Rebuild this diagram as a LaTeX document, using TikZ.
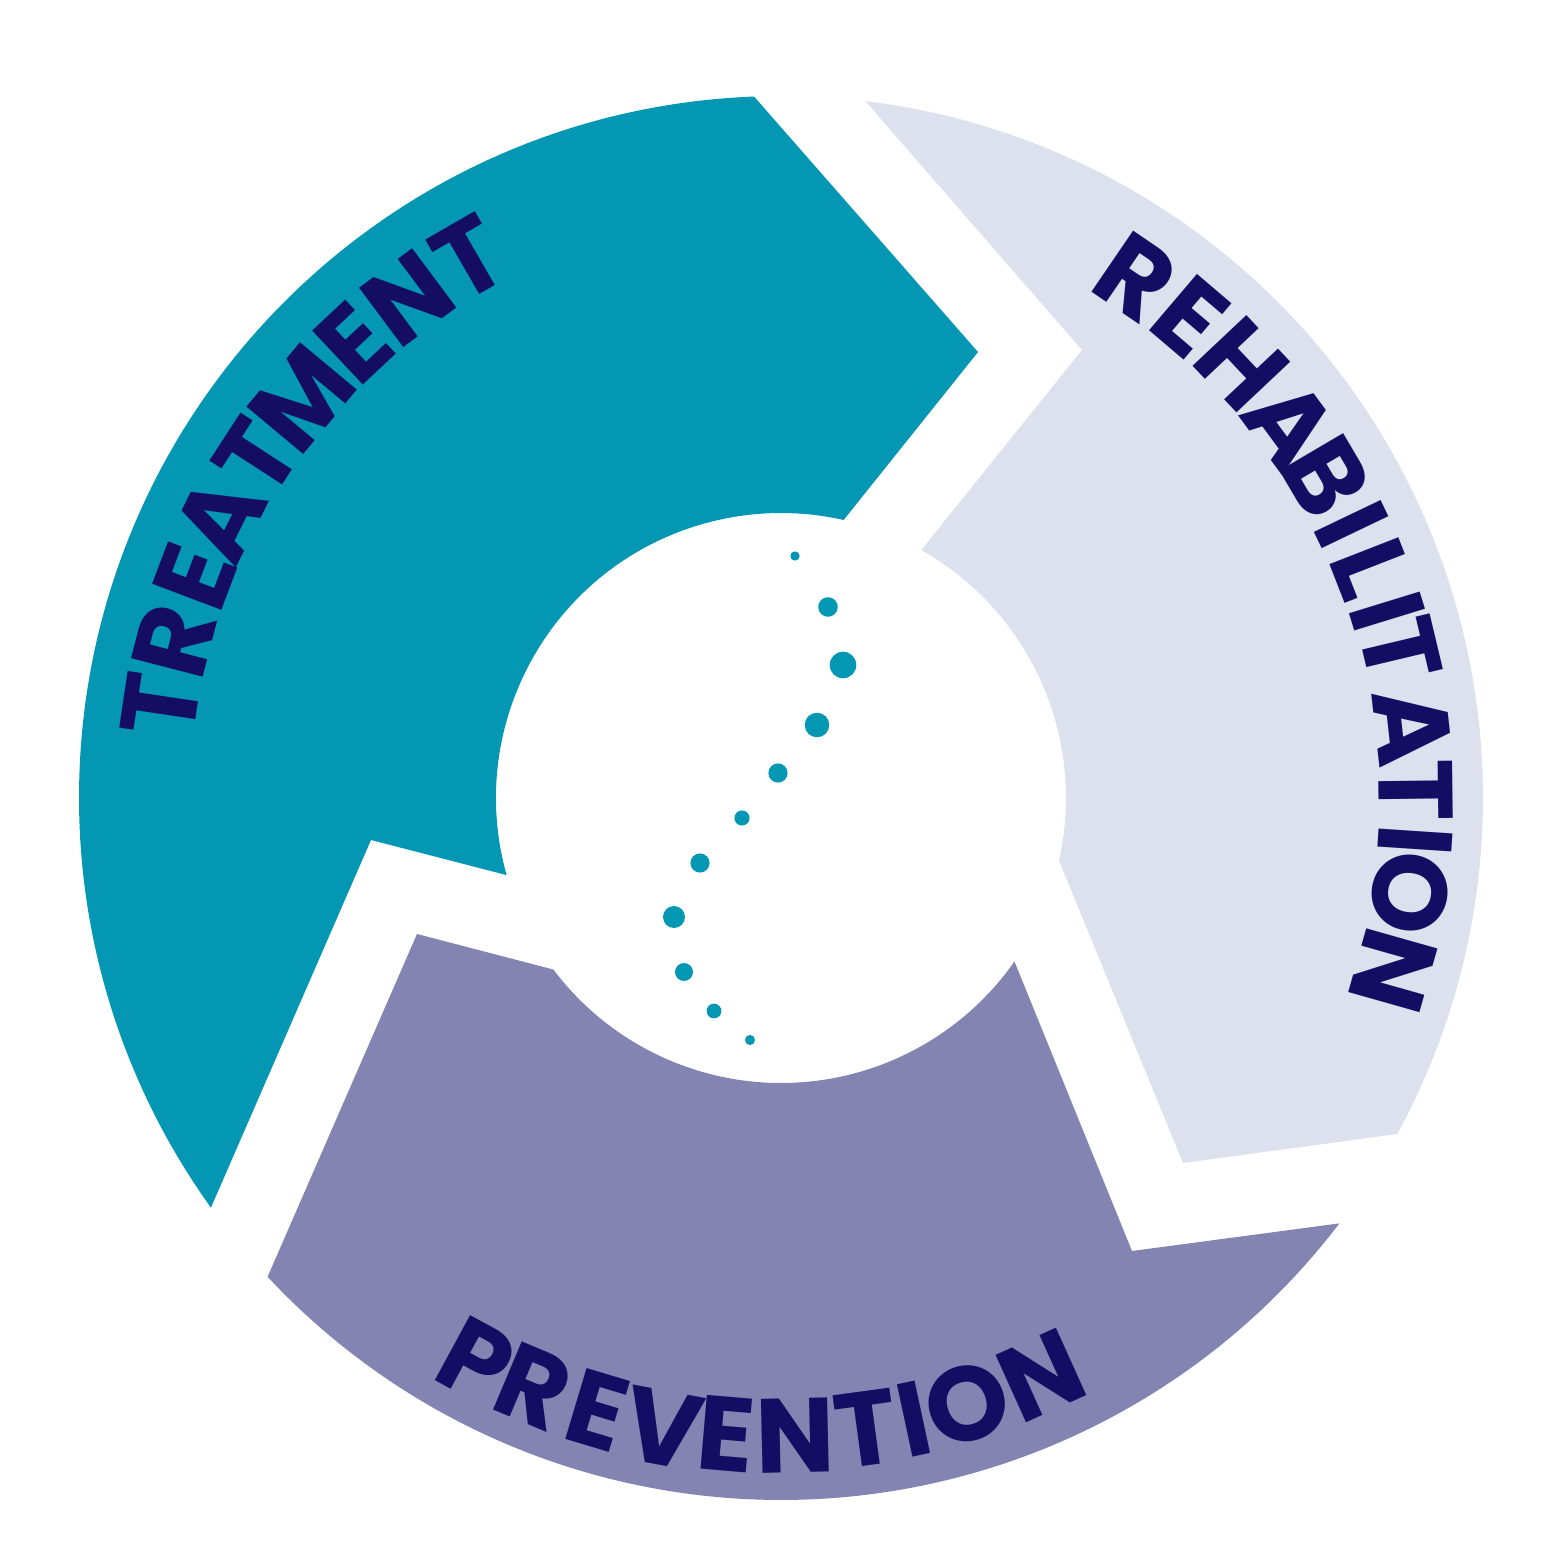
\documentclass[tikz,border=0pt]{standalone}
\usepackage{fontspec}
\setmainfont{Poppins}
\definecolor{teal}{RGB}{4,151,180}
\definecolor{lightsec}{RGB}{220,225,237}
\definecolor{purplesec}{RGB}{132,132,178}
\definecolor{navy}{RGB}{20,13,99}
\tikzset{
  lbl/.style={text=navy, font=\fontsize{30}{30}\selectfont\bfseries, inner sep=0pt, anchor=center},
  dot/.style={fill=teal}
}
\begin{document}
\begin{tikzpicture}
\useasboundingbox (0,0) rectangle (15.63,15.63);
\coordinate (C) at (7.81,7.65);
% Treatment
\fill[teal] ([shift={(C)}]92.2:7.02) arc[start angle=92.2, end angle=215.7, radius=7.02]
  -- (3.71,7.23) -- ([shift={(C)}]195.7:2.85) arc[start angle=195.7, end angle=77.3, radius=2.85]
  -- (9.78,12.11) -- cycle;
% Rehabilitation
\fill[lightsec] ([shift={(C)}]83.1:7.02) arc[start angle=83.1, end angle=-28.6, radius=7.02]
  -- (11.83,4.00) -- ([shift={(C)}]-12.7:2.85) arc[start angle=-12.7, end angle=60.5, radius=2.85]
  -- (10.82,12.13) -- cycle;
% Prevention
\fill[purplesec] ([shift={(C)}]-37.3:7.02) arc[start angle=-37.3, end angle=-137, radius=7.02]
  -- (4.17,6.29) -- ([shift={(C)}]-143:2.85) arc[start angle=-143, end angle=-35, radius=2.85]
  -- (11.32,3.12) -- cycle;
% dots
\foreach \x/\y/\r in {795/556/4.7, 828/607/9.8, 843/665/13.3, 817/725/12.3, 778/773/9.6, 742/818/7.6, 700/863/9.6, 674/917/11, 684/972/9, 714/1011/7.4, 750/1040/5}
  \fill[dot] (\x/100,{(1563-\y)/100}) circle[radius=\r/100];
% labels
\foreach \l/\a/\d [count=\i] in {T/171.5/6.27, R/165.5/6.27, E/159.3/6.27, A/153.5/6.27, T/147.0/6.26, M/140.2/6.24, E/133.2/6.24, N/126.7/6.24, T/120.0/6.24}
  \node[lbl, rotate=\a-90] (tr\i) at ([shift={(C)}]\a:\d) {\l};
\foreach \l/\a/\d [count=\i] in {R/55.7/6.30, E/49.6/6.32, H/43.3/6.33, A/36.3/6.32, B/30.5/6.33, I/25.6/6.33, L/21.3/6.33, I/17.1/6.35, T/13.4/6.37, A/6.4/6.36, T/0.7/6.35, I/-3.8/6.36, O/-8.6/6.36, N/-15.8/6.36}
  \node[lbl, rotate=\a-90] (rh\i) at ([shift={(C)}]\a:\d) {\l};
\foreach \l/\a/\d [count=\i] in {P/241.5/6.40, R/247.2/6.39, E/253.3/6.39, V/259.4/6.41, E/265.1/6.38, N/271.3/6.38, T/277.75/6.36, I/282.1/6.35, O/287.1/6.34, N/294.3/6.34}
  \node[lbl, rotate=\a+90] (pv\i) at ([shift={(C)}]\a:\d) {\l};
\end{tikzpicture}
\end{document}
